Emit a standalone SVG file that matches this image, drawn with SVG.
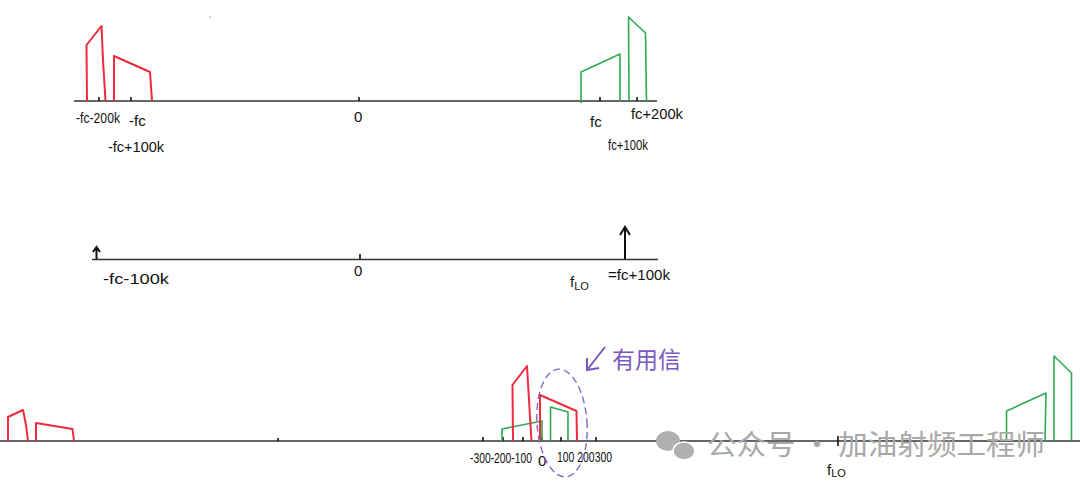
<svg xmlns="http://www.w3.org/2000/svg" width="1080" height="490" viewBox="0 0 1080 490">
<style>
.axis{stroke:#333;stroke-width:1.6;fill:none}
.tick{stroke:#111;stroke-width:1.6}
.red{stroke:#ee2a3c;stroke-width:2;fill:none;stroke-linejoin:round}
.green{stroke:#2fa84f;stroke-width:1.6;fill:none;stroke-linejoin:round}
.lbl{font-family:"Liberation Sans",sans-serif;font-size:15px;fill:#111}
.lbls{font-family:"Liberation Sans",sans-serif;font-size:11px;fill:#111}
.arr{stroke:#111;stroke-width:2;fill:none}
.wm{font-family:"Noto Sans CJK SC",sans-serif;font-size:28px;fill:#a8a8a8}
</style>
<rect width="1080" height="490" fill="#fff"/>
<g id="top-spectrum">
<line class="axis" x1="74" y1="101" x2="657" y2="101"/>
<line class="tick" x1="99" y1="97" x2="99" y2="101"/>
<line class="tick" x1="131" y1="97" x2="131" y2="101"/>
<line class="tick" x1="359" y1="97" x2="359" y2="101"/>
<line class="tick" x1="600" y1="97" x2="600" y2="101"/>
<line class="tick" x1="637" y1="97" x2="637" y2="101"/>
<polyline class="red" points="87,101 86.5,45 101.5,26 103,60 105.5,101"/>
<polyline class="red" points="114,101 114,56 150,72 152,101"/>
<polyline class="green" points="581,103 581,72 620,54 620,101"/>
<polyline class="green" points="629,101 628.5,17 645.5,33 646.5,101"/>
<text class="lbl" x="76" y="123" textLength="44" lengthAdjust="spacingAndGlyphs">-fc-200k</text>
<text class="lbl" x="129" y="126">-fc</text>
<text class="lbl" x="108" y="152" textLength="56" lengthAdjust="spacingAndGlyphs">-fc+100k</text>
<text class="lbl" x="354" y="122" font-size="17">0</text>
<text class="lbl" x="590" y="127" font-size="17">fc</text>
<text class="lbl" x="631" y="119" textLength="52" lengthAdjust="spacingAndGlyphs">fc+200k</text>
<text class="lbl" x="608" y="150" textLength="40" lengthAdjust="spacingAndGlyphs">fc+100k</text>
<circle cx="210" cy="17" r="0.8" fill="#999"/>
</g>
<g id="lo-spectrum">
<line class="axis" x1="92" y1="259.5" x2="658" y2="259.5"/>
<line class="tick" x1="360" y1="254" x2="360" y2="259"/>
<path class="arr" d="M96.5,259 V248 M93,252 L96.5,247 L100,252"/>
<path class="arr" d="M625,259 V228 M620,235 L625,227 L630,235"/>
<text class="lbl" x="103" y="284" textLength="66" lengthAdjust="spacingAndGlyphs">-fc-100k</text>
<text class="lbl" x="354" y="276" font-size="17">0</text>
<text class="lbl" x="570" y="287" font-size="17">f<tspan class="lbls" dy="3">LO</tspan></text>
<text class="lbl" x="608" y="280" textLength="62" lengthAdjust="spacingAndGlyphs">=fc+100k</text>
</g>
<g id="if-spectrum">
<line class="axis" x1="0" y1="441" x2="1080" y2="441"/>
<line class="tick" x1="483" y1="437" x2="483" y2="441"/>
<line class="tick" x1="503" y1="437" x2="503" y2="441"/>
<line class="tick" x1="523" y1="437" x2="523" y2="441"/>
<line class="tick" x1="542" y1="437" x2="542" y2="441"/>
<line class="tick" x1="561" y1="437" x2="561" y2="441"/>
<line class="tick" x1="596" y1="437" x2="596" y2="441"/>
<line class="tick" x1="278" y1="438" x2="278" y2="441"/>
<line class="tick" x1="838" y1="436" x2="838" y2="446"/>
<polyline class="red" points="8,441 8,417 23,410 26,425 28,441"/>
<polyline class="red" points="36,441 36,423 72.5,429 74,441"/>
<polyline class="green" points="502,441 502,429 542,421 542,441"/>
<polyline class="red" points="513,441 512.5,385 527,366 529,400 531.5,441"/>
<polyline class="red" points="540,441 540,395 576.5,411 577,441"/>
<polyline class="green" points="550.5,441 550.5,407 568,412 568,441"/>
<polyline class="green" points="1006.5,441 1006.5,411 1046,393 1045,441"/>
<polyline class="green" points="1054,441 1054,356 1071.5,373 1071.5,441"/>
<text class="lbl" x="470" y="463" font-size="10.5" textLength="62" lengthAdjust="spacingAndGlyphs">-300-200-100</text>
<text class="lbl" x="538" y="466" font-size="15">0</text>
<text class="lbl" x="557" y="462" font-size="12" textLength="55" lengthAdjust="spacingAndGlyphs">100 200300</text>
<text class="lbl" x="827" y="475" font-size="17">f<tspan class="lbls" dy="2">LO</tspan></text>
</g>
<g id="useful-signal">
<ellipse cx="562" cy="423" rx="25" ry="54" fill="none" stroke="#8466c4" stroke-width="1.4" stroke-dasharray="7,4" transform="rotate(-4 562 423)"/>
<path d="M605,347 L587,370 M587,358 L587,370 L599,368" fill="none" stroke="#7a58c0" stroke-width="2"/>
<text x="612" y="368" font-family="'Noto Sans CJK SC',sans-serif" font-size="23" fill="#7a58c0">有用信</text>
</g>
<g id="watermark">
<ellipse cx="668" cy="441" rx="12" ry="10" fill="#b0b0b0"/>
<ellipse cx="684" cy="451" rx="11" ry="9" fill="#b0b0b0" stroke="#fff" stroke-width="1.5"/>
<text class="wm" x="707" y="455" textLength="338" lengthAdjust="spacingAndGlyphs">公众号 · 加油射频工程师</text>
</g>
</svg>
